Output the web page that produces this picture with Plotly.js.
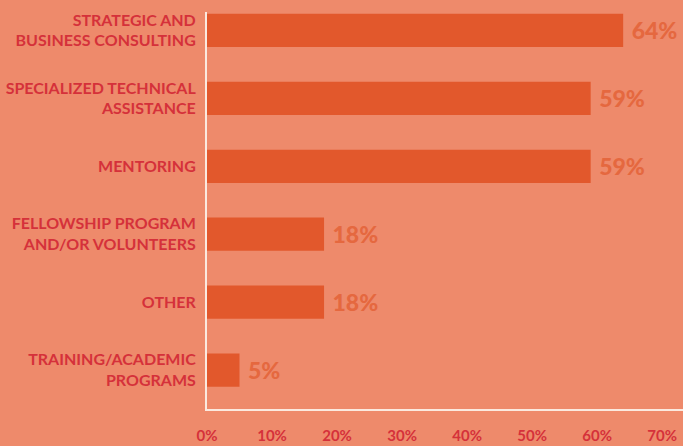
<!DOCTYPE html>
<html>
<head>
<meta charset="utf-8">
<script src="https://cdn.plot.ly/plotly-3.0.1.min.js"></script>
<style>html,body{margin:0;padding:0;background:#ee8a6b;}#chart{width:683px;height:446px;}</style>
</head>
<body>
<div id="chart"></div>
<script>
const categories = [
  "STRATEGIC AND<br>BUSINESS CONSULTING",
  "SPECIALIZED TECHNICAL<br>ASSISTANCE",
  "MENTORING",
  "FELLOWSHIP PROGRAM<br>AND/OR VOLUNTEERS",
  "OTHER",
  "TRAINING/ACADEMIC<br>PROGRAMS"
];
const values = [64, 59, 59, 18, 18, 5];
const tickVals = [0, 10, 20, 30, 40, 50, 60, 70];
const tickText = ["0%", "10%", "20%", "30%", "40%", "50%", "60%", "70%"];

const trace = {
  type: "bar",
  orientation: "h",
  y: categories,
  x: values,
  width: 0.49,
  marker: {color: "#e2582c"},
  texttemplate: " %{x}%",
  textposition: "outside",
  cliponaxis: false,
  textfont: {family: "Lato, 'Open Sans', sans-serif", size: 23, color: "#e5683f", weight: 900},
  hoverinfo: "none"
};

const layout = {
  width: 683, height: 446,
  paper_bgcolor: "#ee8a6b",
  plot_bgcolor: "#ee8a6b",
  margin: {l: 207, r: 0, t: 12, b: 37},
  showlegend: false,
  font: {family: "Lato, 'Open Sans', sans-serif", color: "#d5313a"},
  xaxis: {
    range: [0, 73.2],
    tickvals: tickVals,
    ticktext: tickText,
    showgrid: false,
    zeroline: false,
    showline: true,
    linecolor: "#fbe9df",
    linewidth: 2,
    ticks: "outside",
    ticklen: 12,
    tickcolor: "rgba(0,0,0,0)",
    tickfont: {size: 15, color: "#d5313a", weight: 700},
    fixedrange: true
  },
  yaxis: {
    type: "category",
    range: [5.574, -0.272],
    showgrid: false,
    zeroline: false,
    showline: true,
    linecolor: "#fbe9df",
    linewidth: 2,
    ticks: "outside",
    ticklen: 6,
    tickcolor: "rgba(0,0,0,0)",
    tickfont: {size: 16, color: "#d5313a", weight: 700},
    fixedrange: true
  }
};

Plotly.newPlot("chart", [trace], layout, {displayModeBar: false, staticPlot: true});
</script>
</body>
</html>
